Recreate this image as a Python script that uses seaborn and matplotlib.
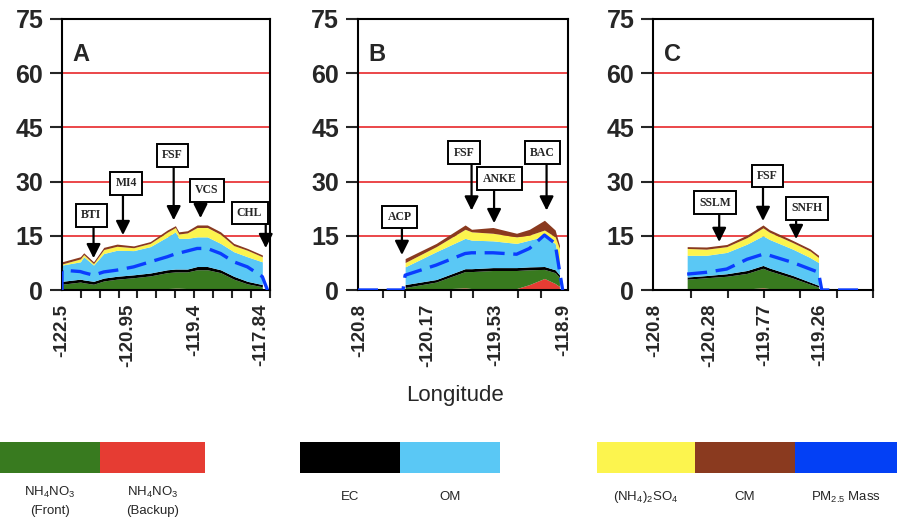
# ============================================================
# PM2.5 composition along longitude transects (panels A, B, C)
# ============================================================
import numpy as np
import matplotlib
matplotlib.use("Agg")
import matplotlib.pyplot as plt
import seaborn as sns

# ==========================
# Data
# ==========================
# Panel A
lon_a = [-122.50, -122.07, -121.99, -121.76, -121.52, -121.21, -120.82, -120.43, -120.03,
         -119.84, -119.76, -119.56, -119.33, -119.09, -118.78, -118.47, -118.15, -117.80]
backup_a = [0.2, 0.2, 0.2, 0.2, 0.2, 0.2, 0.2, 0.3, 0.4, 0.5, 0.5, 0.4, 0.3, 0.3, 0.2, 0.2, 0.2, 0.1]
front_a = [1.4, 2.0, 1.8, 1.4, 2.3, 2.8, 3.2, 3.6, 4.4, 4.5, 4.5, 4.6, 5.3, 5.3, 4.6, 2.8, 1.5, 0.8]
ec_a = [0.8, 0.8, 0.8, 0.8, 0.8, 0.8, 0.8, 0.8, 0.8, 0.8, 0.8, 0.8, 0.9, 0.9, 0.8, 0.8, 0.7, 0.6]
om_a = [4.5, 4.8, 6.4, 4.5, 6.8, 7.2, 6.7, 7.3, 9.1, 10.3, 8.5, 8.5, 8.2, 8.2, 7.3, 6.8, 6.8, 6.3]
sulfate_a = [0.3, 0.8, 0.6, 0.4, 1.1, 1.1, 0.8, 0.9, 1.3, 1.2, 1.2, 1.5, 2.6, 2.6, 2.5, 1.7, 1.8, 1.4]
cm_a = [0.6, 0.6, 0.5, 0.5, 0.6, 0.6, 0.5, 0.5, 0.6, 0.5, 0.6, 0.6, 0.7, 0.7, 0.7, 0.6, 0.5, 0.5]
pm_lon_a = [-122.50, -122.50, -122.07, -121.99, -121.76, -121.52, -121.21, -120.82, -120.43, -120.03,
            -119.84, -119.76, -119.56, -119.33, -119.09, -118.78, -118.47, -118.15, -117.80, -117.68]
pm_a = [0.0, 5.5, 5.1, 4.8, 4.1, 5.0, 5.5, 6.4, 7.8, 9.2,
        10.0, 10.2, 10.8, 11.5, 11.5, 10.1, 7.8, 6.4, 3.7, 0.0]

# Panel B
lon_b = [-120.38, -120.09, -119.82, -119.76, -119.56, -119.34, -119.22, -119.08, -118.98, -118.94]
backup_b = [0.1, 0.2, 0.6, 0.4, 0.2, 0.4, 1.5, 3.2, 1.8, 1.0]
front_b = [0.6, 2.0, 4.5, 4.7, 5.2, 5.0, 4.1, 2.5, 3.0, 2.5]
ec_b = [0.8, 0.7, 0.8, 0.8, 0.8, 0.8, 0.8, 0.8, 0.8, 0.7]
om_b = [4.9, 7.7, 8.4, 7.9, 7.4, 6.7, 7.4, 8.4, 7.3, 3.2]
sulfate_b = [1.2, 1.4, 2.5, 2.3, 2.1, 1.8, 1.4, 1.7, 1.8, 4.1]
cm_b = [1.1, 0.9, 1.2, 0.7, 1.6, 1.0, 1.6, 2.7, 1.9, 0.9]
pm_lon_b = [-120.82, -120.40, -120.38, -120.09, -119.82, -119.76, -119.56,
            -119.34, -119.22, -119.08, -118.98, -118.94, -118.91]
pm_b = [0.0, 0.0, 4.1, 6.9, 10.1, 10.3, 10.3, 9.9, 11.5, 15.2, 12.9, 5.5, 0.0]

# Panel C
lon_c = [-120.50, -120.32, -120.13, -119.94, -119.79, -119.73, -119.51, -119.35, -119.27]
backup_c = [0.2, 0.2, 0.2, 0.3, 0.6, 0.4, 0.2, 0.1, 0.1]
front_c = [2.8, 3.2, 3.6, 4.3, 5.4, 4.9, 3.1, 1.5, 0.7]
ec_c = [0.6, 0.6, 0.7, 0.8, 0.8, 0.8, 0.7, 0.6, 0.5]
om_c = [6.0, 5.6, 5.9, 7.3, 8.2, 7.9, 7.3, 6.8, 6.3]
sulfate_c = [1.9, 1.7, 1.6, 1.8, 2.2, 2.0, 1.8, 1.8, 1.4]
cm_c = [0.5, 0.6, 0.6, 0.7, 0.8, 0.7, 0.6, 0.6, 0.6]
pm_lon_c = [-120.50, -120.32, -120.13, -119.94, -119.79, -119.73, -119.51,
            -119.35, -119.27, -119.24, -118.86]
pm_c = [4.4, 4.9, 5.8, 8.5, 9.9, 9.6, 7.6, 5.8, 4.9, 0.0, 0.0]

# Site call-outs: (name, box lon, box value, arrow lon, arrow tip value)
sites_a = [("BTI", -121.81, 20.7, -121.76, 8.8),
           ("MI4", -120.99, 29.5, -121.07, 15.2),
           ("FSF", -119.91, 37.3, -119.88, 19.3),
           ("VCS", -119.10, 27.6, -119.25, 19.9),
           ("CHL", -118.10, 21.3, -117.72, 11.6)]
sites_b = [("ACP", -120.43, 20.2, -120.41, 9.7),
           ("FSF", -119.83, 38.0, -119.76, 22.0),
           ("ANKE", -119.50, 30.8, -119.55, 18.5),
           ("BAC", -119.10, 38.0, -119.06, 22.0)]
sites_c = [("SSLM", -120.24, 24.2, -120.20, 13.3),
           ("FSF", -119.75, 31.5, -119.79, 19.1),
           ("SNFH", -119.38, 22.6, -119.48, 14.1)]

# Axis ticks
xlabels_a = ["-122.5", "-120.95", "-119.4", "-117.84"]
xlabels_b = ["-120.8", "-120.17", "-119.53", "-118.9"]
xlabels_c = ["-120.8", "-120.28", "-119.77", "-119.26"]
yticks = [0, 15, 30, 45, 60, 75]

# Legend entries
legend_names = [r"NH$_4$NO$_3$" + "\n(Front)", r"NH$_4$NO$_3$" + "\n(Backup)", "EC", "OM",
                r"(NH$_4$)$_2$SO$_4$", "CM", r"PM$_{2.5}$ Mass"]

colors = ["#e63c33", "#387a1f", "#000000", "#5ac8f5", "#fcf44e", "#8a3a1f"]
legend_colors = ["#387a1f", "#e63c33", "#000000", "#5ac8f5", "#fcf44e", "#8a3a1f", "#0340f5"]
pm_color = "#0a3cff"

# ==========================
# Style
# ==========================
sns.set_style("ticks")
plt.rcParams["font.family"] = ["Liberation Sans", "DejaVu Sans"]
plt.rcParams["mathtext.fontset"] = "custom"
plt.rcParams["mathtext.rm"] = "Liberation Sans"
plt.rcParams["mathtext.default"] = "regular"

W, H = 897, 522
fig = plt.figure(figsize=(W / 100, H / 100), dpi=100)

panels = [
    ("A", (62, 208), (-122.5, -117.62), lon_a,
     [backup_a, front_a, ec_a, om_a, sulfate_a, cm_a], pm_lon_a, pm_a, sites_a,
     np.linspace(-122.5, -117.84, 4), xlabels_a, np.linspace(-122.5, -117.63, 12)),
    ("B", (358, 210), (-120.82, -118.86), lon_b,
     [backup_b, front_b, ec_b, om_b, sulfate_b, cm_b], pm_lon_b, pm_b, sites_b,
     np.linspace(-120.8, -118.9, 4), xlabels_b, np.linspace(-120.8, -118.9, 10)),
    ("C", (653, 220), (-120.82, -118.76), lon_c,
     [backup_c, front_c, ec_c, om_c, sulfate_c, cm_c], pm_lon_c, pm_c, sites_c,
     np.linspace(-120.8, -119.26, 4), xlabels_c, np.linspace(-120.8, -118.76, 7)),
]

for (letter, (x0, w), xlim, lon, layers, pm_lon, pm, sites,
     major, xlabels, minor) in panels:
    ax = fig.add_axes([x0 / W, 1 - 290 / H, w / W, 271 / H])

    for yv in [15, 30, 45, 60]:
        ax.axhline(yv, color="#e8282a", lw=1.2, zorder=0.5)

    ax.stackplot(lon, *layers, colors=colors, lw=0, zorder=1)

    sns.lineplot(x=pm_lon, y=pm, ax=ax, estimator=None, sort=False,
                 color=pm_color, lw=2.4, linestyle=(0, (6, 2.6)), zorder=3)

    for name, bx, by, axx, tip in sites:
        ax.annotate("", xy=(axx, tip), xytext=(axx, by - 3.2),
                    arrowprops=dict(arrowstyle="-|>,head_length=0.7,head_width=0.35",
                                    color="black", lw=1.6, shrinkA=0, shrinkB=0,
                                    mutation_scale=12), zorder=5)
        ax.text(bx, by, name, ha="center", va="center", fontsize=8.5,
                fontweight="bold", family="Liberation Serif", zorder=6,
                bbox=dict(boxstyle="square,pad=0.45", fc="white", ec="black", lw=1.4))

    ax.text(0.05, 0.87, letter, transform=ax.transAxes, ha="left", va="center",
            fontsize=17, fontweight="bold")

    ax.set_xlim(*xlim)
    ax.set_ylim(0, 75)
    ax.set_yticks(yticks)
    ax.set_yticklabels([str(v) for v in yticks], fontsize=18, fontweight="bold")
    ax.set_xticks(major)
    ax.set_xticklabels(xlabels, rotation=90, fontsize=13.5, fontweight="bold")
    ax.set_xticks(minor, minor=True)
    ax.tick_params(axis="x", which="major", length=0, pad=10)
    ax.tick_params(axis="x", which="minor", length=6, width=1.5, direction="out")
    ax.tick_params(axis="y", length=8.5, width=1.5, pad=5)
    ax.set_xlabel("")
    ax.set_ylabel("")
    for side in ["left", "right", "top", "bottom"]:
        ax.spines[side].set_visible(True)
        ax.spines[side].set_linewidth(1.5)
        ax.spines[side].set_color("black")

fig.text(455 / W, 1 - 396 / H, "Longitude", ha="center", va="center", fontsize=16)

# ==========================
# Legend strip
# ==========================
leg = fig.add_axes([0, 1 - 473 / H, 1, 31 / H])
leg_left = [0, 100, 300, 400, 597, 695, 795]
leg_width = [100, 105, 100, 100, 98, 100, 102]
leg.barh([0.5] * 7, leg_width, left=leg_left, height=1, color=legend_colors, lw=0)
leg.set_xlim(0, W)
leg.set_ylim(0, 1)
leg.axis("off")

leg_text_y = [501, 501, 497, 497, 497, 497, 497]
for name, left, width, ty in zip(legend_names, leg_left, leg_width, leg_text_y):
    fig.text((left + width / 2) / W, 1 - ty / H, name, ha="center", va="center",
             fontsize=9.5, linespacing=1.5)

plt.savefig("out.png", dpi=100)
